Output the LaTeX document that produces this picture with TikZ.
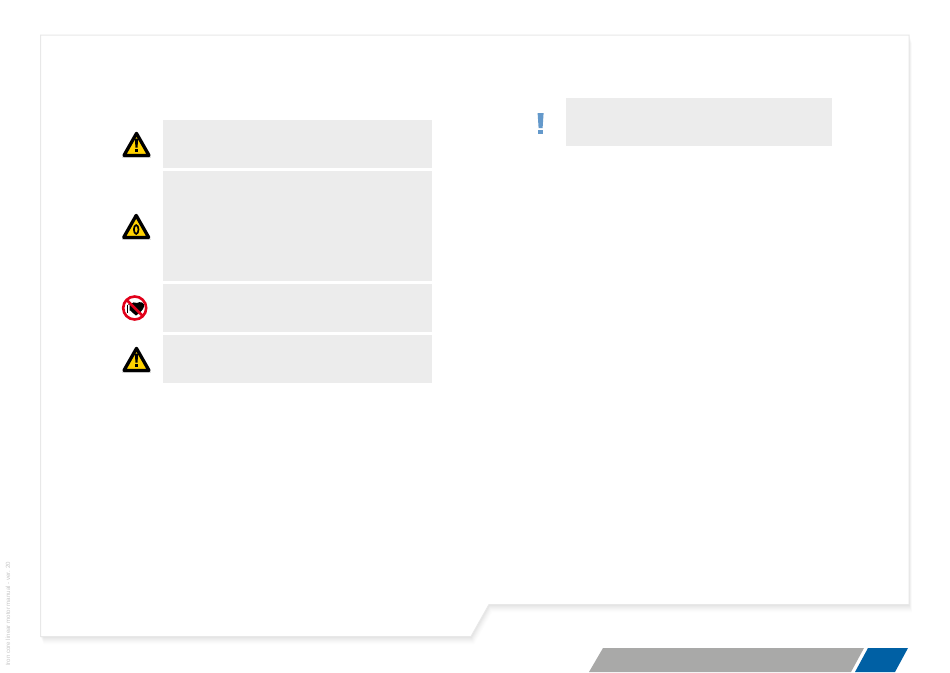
\documentclass[tikz,border=0pt]{standalone}
\usepackage{fontspec}
\setmainfont{Liberation Sans}
\definecolor{boxgrey}{HTML}{ECECEC}
\definecolor{bargrey}{HTML}{A9A9A8}
\definecolor{barblue}{HTML}{0060A4}
\definecolor{signyellow}{HTML}{FFD200}
\definecolor{signred}{HTML}{E2001A}
\definecolor{markblue}{HTML}{6499CB}
\definecolor{edgegrey}{HTML}{E8E8E8}
\newcommand{\panelpath}{(40.5,35) -- (909,35) -- (909,604.5) -- (489,604.5) -- (471,636.5) -- (40.5,636.5) -- cycle}
\newcommand{\warntriangle}[2]{%
  \begin{scope}[shift={(#1,#2)}]
    \fill[black!25,opacity=.5] (-14.5,13.2) -- (14.5,13.2) -- (14.5,14.2) -- (-14.5,14.2) -- cycle;
    \draw[fill=signyellow,draw=black,line width=3.3pt,line join=round] (0,-10.6) -- (12.5,11.4) -- (-12.5,11.4) -- cycle;
  \end{scope}}
\newcommand{\bangmark}[2]{%
  \begin{scope}[shift={(#1,#2)}]
    \fill[black] (-1.7,-5.5) -- (1.7,-5.5) -- (1,3.6) -- (-1,3.6) -- cycle;
    \fill[black] (-1.2,5) rectangle (1.2,7.8);
  \end{scope}}
\tikzset{
  x=1pt,y=-1pt,
  notebox/.style={fill=boxgrey,draw=none},
}
\begin{document}
\begin{tikzpicture}
\useasboundingbox (0,0) rectangle (950,672);
\fill[white] (0,0) rectangle (950,672);
% panel shadow
\foreach \d/\o in {8/.006,7/.008,6/.01,5/.012,4/.014,3/.016,2/.018,1/.02}{
  \begin{scope}[shift={(\d*.4,\d)}]
    \fill[black,opacity=\o] \panelpath;
  \end{scope}
}
\fill[white,draw=edgegrey,line width=1pt,line join=miter] \panelpath;
% note boxes
\path[notebox] (163,120) rectangle (432,168);
\path[notebox] (163,171) rectangle (432,281);
\path[notebox] (163,284) rectangle (432,332);
\path[notebox] (163,335) rectangle (432,383);
\path[notebox] (566,98) rectangle (832,146);
% warning signs
\warntriangle{136.5}{144}
\bangmark{136.5}{144}
\warntriangle{136.2}{226}
\draw[black,line width=1.7pt] (136.2,229.5) ellipse (2.3 and 4.4);
\warntriangle{136.5}{359}
\bangmark{136.5}{359}
% prohibition sign
\fill[black] (127.3,304.6) -- (130.5,304.2) .. controls (132,302) and (135,302) .. (137,303) .. controls (140,301) and (145,302.5) .. (144,306.5) .. controls (143.5,310) and (139,313.5) .. (136,315.5) .. controls (133.5,313.5) and (131.5,312) .. (130.5,310.5) -- (129.5,310.5) -- (129.5,304.9) -- cycle;
\fill[white] (128.2,305.5) rectangle (129.2,310);
\fill[black] (126.8,304.5) rectangle (127.8,313);
\draw[signred,line width=2.6pt] (134.7,308) circle (11.5);
\draw[signred,line width=2.6pt] (126.5,299.8) -- (142.9,316.2);
% blue exclamation mark
\fill[markblue] (537.6,113) -- (543.6,113) -- (542.6,128) -- (538.6,128) -- cycle;
\fill[markblue] (538.2,130) rectangle (543,133.5);
% side text
\node[rotate=90,anchor=west,inner sep=0pt,text=black!22,font=\fontsize{6.1}{7}\selectfont] (sidetext) at (8,666) {Iron core linear motor manual - ver. 20};
% footer bars
\fill[bargrey] (603,648) -- (864,648) -- (851,672) -- (589,672) -- cycle;
\fill[barblue] (868,648) -- (908,648) -- (895,672) -- (855,672) -- cycle;
\end{tikzpicture}
\end{document}
